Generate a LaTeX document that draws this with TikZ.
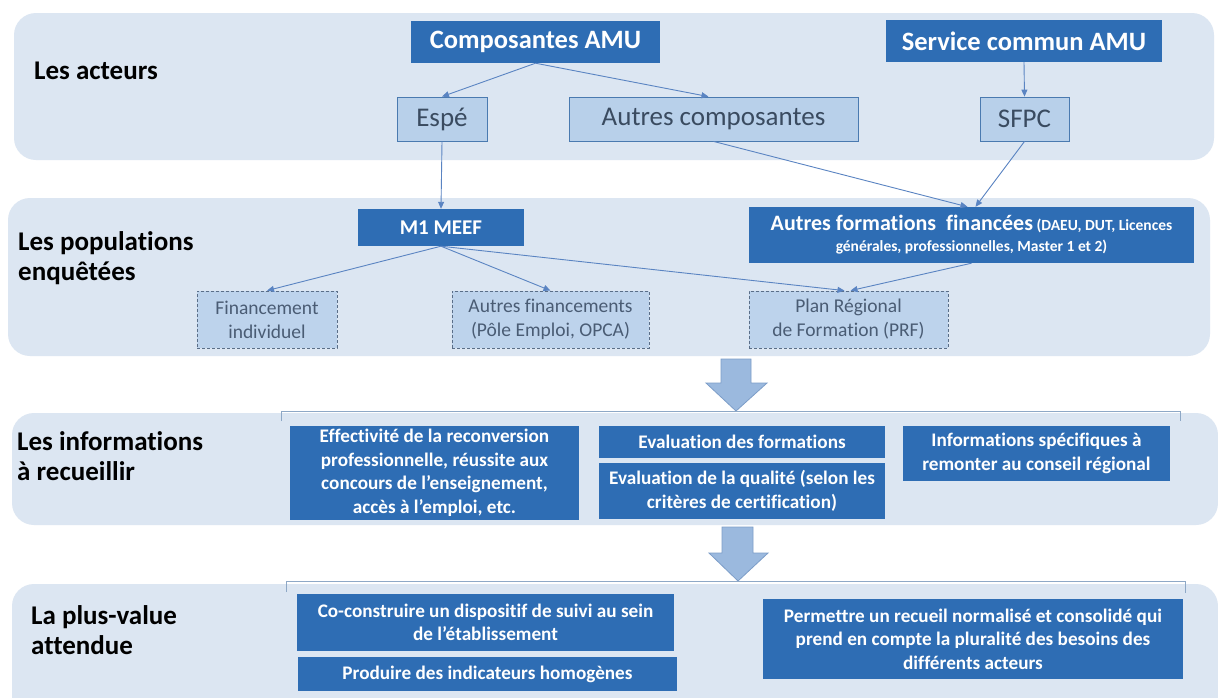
\documentclass[tikz,border=0pt]{standalone}
\usepackage{fontspec}
\setmainfont{Carlito}[Ligatures=CommonOff]
\usetikzlibrary{arrows.meta,calc}
\definecolor{bandc}{HTML}{DCE6F2}
\definecolor{darkc}{HTML}{2E6DB4}
\definecolor{lightc}{HTML}{B8D0EA}
\definecolor{lightedge}{HTML}{4A7AB0}
\definecolor{dashfill}{HTML}{BDD3EC}
\definecolor{dashedge}{HTML}{5A6E88}
\definecolor{linkc}{HTML}{5A84C2}
\definecolor{txtgrey}{HTML}{3A4B60}
\definecolor{dashtxt}{HTML}{4A5C74}
\definecolor{arrowfill}{HTML}{9BB9DE}
\definecolor{arrowedge}{HTML}{7C9DC8}
\definecolor{brack}{HTML}{8EA8C6}
\begin{document}
\begin{tikzpicture}[x=1pt,y=-1pt,
  bandbox/.style={fill=bandc,draw=none,rounded corners=22pt},
  darkbox/.style={fill=darkc,text=white,inner sep=0pt,align=center,font=\bfseries},
  lightbox/.style={fill=lightc,draw=lightedge,line width=0.8pt,text=txtgrey,inner sep=0pt,font=\fontsize{27}{29}\selectfont},
  dashbox/.style={fill=dashfill,draw=dashedge,dash pattern=on 3pt off 2pt,line width=0.8pt,text=dashtxt,inner sep=0pt,align=center,font=\fontsize{19.5}{24}\selectfont,minimum height=57pt},
  infobox/.style={darkbox,font=\bfseries\fontsize{19.2}{23.5}\selectfont},
  heading/.style={anchor=west,align=left,inner sep=0pt,font=\bfseries\fontsize{27}{30}\selectfont},
  link/.style={draw=linkc,line width=0.9pt,-{Triangle[length=7pt,width=6pt]}},
  blockarrow/.style={fill=arrowfill,draw=arrowedge,line width=0.8pt},
  brackline/.style={draw=brack,line width=0.9pt}]
\useasboundingbox (0,0) rectangle (1218,697);
\fill[white] (0,0) rectangle (1218,697);
% bands
\path[bandbox] (14,13) rectangle (1214,160);
\path[bandbox] (8,198) rectangle (1210,356);
\path[bandbox] (12,413) rectangle (1218,525);
\path[bandbox] (12,584) rectangle (1218,720);
% headings
\node[heading] (h1) at (34,71) {Les acteurs};
\node[heading] (h2) at (18,258) {Les populations\\enquêtées};
\node[heading] (h3) at (17,456) {Les informations\\à recueillir};
\node[heading] (h4) at (31,630) {La plus-value\\attendue};
% band 1
\node[darkbox,font=\bfseries\fontsize{26.5}{28}\selectfont,minimum width=249pt,minimum height=42pt] (comp) at (535.5,42) {Composantes AMU};
\node[darkbox,font=\bfseries\fontsize{26.5}{28}\selectfont,minimum width=276pt,minimum height=42pt] (serv) at (1024,41) {Service commun AMU};
\node[lightbox,minimum width=90pt,minimum height=44pt] (espe) at (442,119) {Espé};
\node[lightbox,minimum width=289pt,minimum height=44pt] (autres) at (713.5,119) {Autres composantes};
\node[lightbox,minimum width=89pt,minimum height=44pt] (sfpc) at (1024.5,119) {SFPC};
% band 2
\node[darkbox,font=\bfseries\fontsize{21}{24}\selectfont,minimum width=166pt,minimum height=37pt] (meef) at (441,227.5) {M1 MEEF};
\node[darkbox,font=\bfseries\fontsize{15.5}{21}\selectfont,minimum width=445pt,minimum height=56pt] (autfor) at (971.5,235) {{\fontsize{22}{21}\selectfont Autres formations~ financées} (DAEU, DUT, Licences\\générales, professionnelles, Master 1 et 2)};
\node[dashbox,minimum width=140pt] (finind) at (267,319.5) {Financement\\individuel};
\node[dashbox,minimum width=197pt] (autfin) at (550.5,319.5) {Autres financements\\(Pôle Emploi, OPCA)};
\node[dashbox,minimum width=199pt] (prf) at (848.5,319.5) {Plan Régional\\de Formation (PRF)};
% band 3
\node[infobox,minimum width=289pt,minimum height=94pt] (eff) at (434.5,473) {Effectivité de la reconversion\\professionnelle, réussite aux\\concours de l’enseignement,\\accès à l’emploi, etc.};
\node[infobox,minimum width=286pt,minimum height=32pt] (evf) at (742,442) {Evaluation des formations};
\node[infobox,minimum width=286pt,minimum height=56pt] (evq) at (742,491) {Evaluation de la qualité (selon les\\critères de certification)};
\node[infobox,minimum width=267pt,minimum height=55pt] (info) at (1036.5,453.5) {Informations spécifiques à\\remonter au conseil régional};
% band 4
\node[infobox,minimum width=377pt,minimum height=57pt] (cocon) at (485.5,622.5) {Co-construire un dispositif de suivi au sein\\de l’établissement};
\node[infobox,minimum width=379pt,minimum height=34pt] (prod) at (487.5,674) {Produire des indicateurs homogènes};
\node[infobox,minimum width=420pt,minimum height=80pt] (perm) at (973,639) {Permettre un recueil normalisé et consolidé qui\\prend en compte la pluralité des besoins des\\différents acteurs};
% connectors
\draw[link] (comp.south) -- (espe.north);
\draw[link] (comp.south) -- ([xshift=-5pt]autres.north);
\draw[link] (serv.south) -- (sfpc.north);
\draw[link] (espe.south) -- (meef.north);
\draw[link] (autres.south) -- ([xshift=-4pt]autfor.north);
\draw[link] (sfpc.south) -- ([xshift=4pt]autfor.north);
\draw[link] (meef.south) -- (finind.north);
\draw[link] (meef.south) -- (autfin.north);
\draw[link] (meef.south) -- ([xshift=-4pt]prf.north);
\draw[link] (autfor.south) -- ([xshift=2pt]prf.north);
% block arrows
\draw[blockarrow] (721,359) -- (751,359) -- (751,383) -- (767,383) -- (736,411) -- (706,383) -- (721,383) -- cycle;
\draw[blockarrow] (722,527) -- (753,527) -- (753,553) -- (768,553) -- (738,581) -- (709,553) -- (722,553) -- cycle;
% brackets
\draw[brackline] (281,421) -- (281,411) -- (1180,411) -- (1180,421);
\draw[brackline] (286,592) -- (286,581) -- (1185,581) -- (1185,593);
\end{tikzpicture}
\end{document}
